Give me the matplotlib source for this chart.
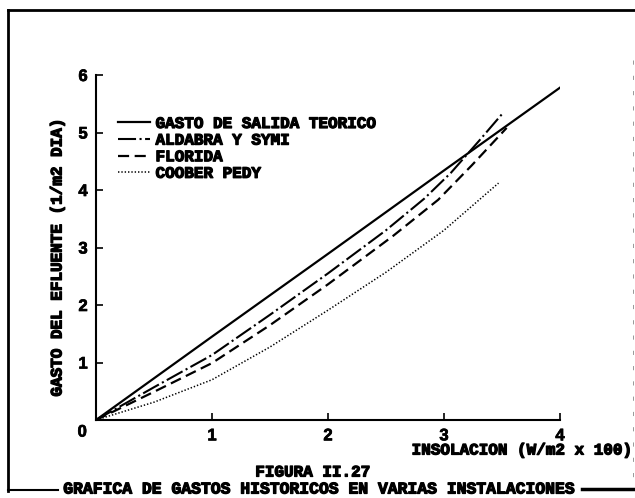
import matplotlib
matplotlib.use("Agg")
import matplotlib.pyplot as plt
import matplotlib.patheffects as pe
from matplotlib.lines import Line2D

# ---- data ----
teorico_x = [0, 1, 2, 3, 4]
teorico_y = [0, 1.45, 2.89, 4.34, 5.78]

aldabra_x = [0, 0.5, 1, 1.5, 2, 2.5, 2.83, 3.06, 3.3, 3.5]
aldabra_y = [0, 0.57, 1.13, 1.83, 2.55, 3.30, 3.85, 4.30, 4.85, 5.32]

florida_x = [0, 0.5, 1, 1.5, 2, 2.56, 2.95, 3.24, 3.54]
florida_y = [0, 0.49, 0.99, 1.65, 2.36, 3.20, 3.83, 4.43, 5.08]

coober_x = [0, 0.5, 1, 1.5, 2, 2.5, 3.0, 3.47]
coober_y = [0, 0.31, 0.70, 1.27, 1.91, 2.57, 3.30, 4.12]

series_labels = ["GASTO DE SALIDA TEORICO", "ALDABRA Y SYMI", "FLORIDA", "COOBER PEDY"]
x_ticks = [1, 2, 3, 4]
y_ticks = [1, 2, 3, 4, 5, 6]
x_label = "INSOLACION (W/m2 x 100)"
y_label = "GASTO DEL EFLUENTE (1/m2 DIA)"
fig_title = "FIGURA II.27"
fig_caption = "GRAFICA DE GASTOS HISTORICOS EN VARIAS INSTALACIONES"

# ---- style ----
plt.rcParams['font.family'] = ['Liberation Mono', 'DejaVu Sans Mono']
plt.rcParams['font.weight'] = 'bold'
plt.rcParams['lines.scale_dashes'] = False
bold = [pe.withStroke(linewidth=0.9, foreground='black')]
FS = 11.5
DIGIT_FONT = ['Liberation Sans', 'DejaVu Sans']

W, H = 635, 498
fig = plt.figure(figsize=(W / 100, H / 100), dpi=100)
fig.patch.set_facecolor('white')

ax_l, ax_r, ax_t, ax_b = 96, 560, 75, 420
ax = fig.add_axes([ax_l / W, 1 - ax_b / H, (ax_r - ax_l) / W, (ax_b - ax_t) / H])

ax.plot(teorico_x, teorico_y, color='black', lw=1.6, linestyle='-', label=series_labels[0])
ax.plot(aldabra_x, aldabra_y, color='black', lw=1.5, linestyle=(0, (13, 2.5, 1.5, 2.5)), label=series_labels[1])
ax.plot(florida_x, florida_y, color='black', lw=1.6, linestyle=(0, (8, 4)), label=series_labels[2])
ax.plot(coober_x, coober_y, color='black', lw=1.1, linestyle=(0, (1, 1.4)), label=series_labels[3])

ax.set_xlim(0, 4)
ax.set_ylim(0, 6)
for s in ['top', 'right']:
    ax.spines[s].set_visible(False)
for s in ['left', 'bottom']:
    ax.spines[s].set_linewidth(1.5)

ax.set_xticks(x_ticks)
ax.set_yticks(y_ticks)
ax.set_xticklabels([str(v) for v in x_ticks])
ax.set_yticklabels([str(v) for v in y_ticks])
ax.tick_params(direction='in', length=5, width=1.2, labelsize=FS + 0.5, pad=6)
for lbl in ax.get_xticklabels() + ax.get_yticklabels():
    lbl.set_family(DIGIT_FONT)
    lbl.set_path_effects([pe.withStroke(linewidth=0.5, foreground='black')])

# corner zero
ax.text(-0.02, -0.035, "0", transform=ax.transAxes, ha='right', va='center',
        fontsize=FS + 0.5, family=DIGIT_FONT,
        path_effects=[pe.withStroke(linewidth=0.5, foreground='black')])

leg = ax.legend(loc='upper left', bbox_to_anchor=((118 - ax_l) / (ax_r - ax_l), 1 - (116 - ax_t) / (ax_b - ax_t)),
                frameon=False, fontsize=FS, handlelength=2.0, handletextpad=0.35,
                labelspacing=0.1, borderaxespad=0, borderpad=0)
for t in leg.get_texts():
    t.set_path_effects(bold)

fig.text(633 / W, 1 - 450 / H, x_label, ha='right', va='center', fontsize=FS, path_effects=bold)
fig.text(57 / W, 1 - 257 / H, y_label, ha='center', va='center', rotation=90, fontsize=FS, path_effects=bold)
fig.text(313 / W, 1 - 472 / H, fig_title, ha='center', va='center', fontsize=FS, path_effects=bold)
fig.text(320 / W, 1 - 489 / H, fig_caption, ha='center', va='center', fontsize=FS + 0.3, path_effects=bold)

# page frame
def fl(x0, y0, x1, y1, lw=2.0, ls='-', color='black'):
    fig.add_artist(Line2D([x0 / W, x1 / W], [1 - y0 / H, 1 - y1 / H], color=color, lw=lw, linestyle=ls))

fl(8, 10, 635, 10)
fl(8, 10, 8, 491)
fl(8, 490, 58, 490, lw=1.5)
fl(582, 489, 635, 489, lw=2.5)
fl(633, 60, 633, 482, lw=0.6, ls=(0, (3, 8)), color='#888888')

fig.savefig("out.png", dpi=100, facecolor='white')
